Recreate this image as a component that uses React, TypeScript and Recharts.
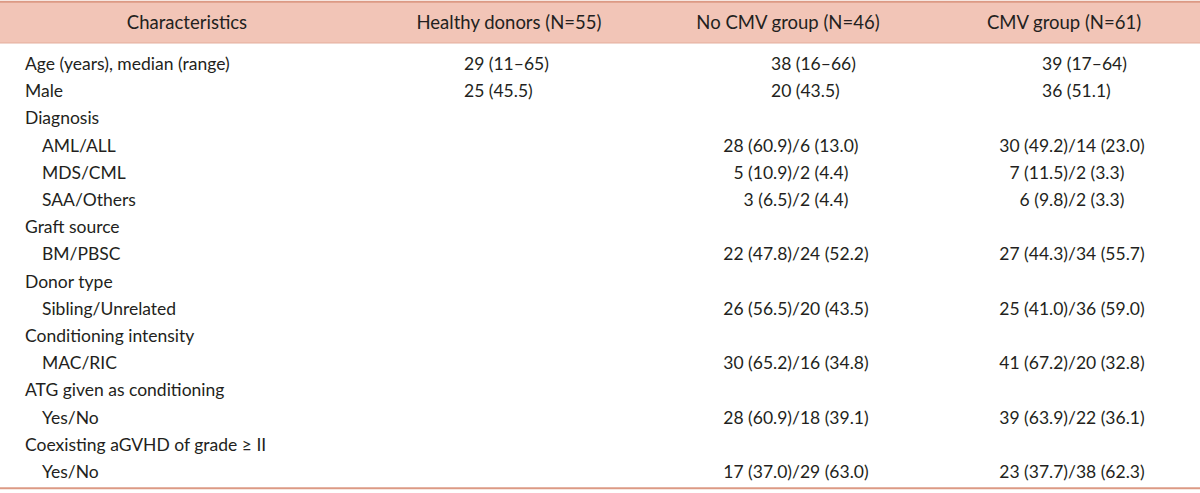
import { ReferenceArea, ReferenceLine, Scatter, ScatterChart, XAxis, YAxis } from 'recharts'

const HEADERS = ['Characteristics', 'Healthy donors (N=55)', 'No CMV group (N=46)', 'CMV group (N=61)']

const ROW_LABELS = [
  'Age (years), median (range)',
  'Male',
  'Diagnosis',
  'AML/ALL',
  'MDS/CML',
  'SAA/Others',
  'Graft source',
  'BM/PBSC',
  'Donor type',
  'Sibling/Unrelated',
  'Conditioning intensity',
  'MAC/RIC',
  'ATG given as conditioning',
  'Yes/No',
  'Coexisting aGVHD of grade \u2265 II',
  'Yes/No',
]

const ROW_INDENT = [false, false, false, true, true, true, false, true, false, true, false, true, false, true, false, true]

const HEALTHY = ['29 (11\u201365)', '25 (45.5)', '', '', '', '', '', '', '', '', '', '', '', '', '', '']

const NO_CMV = [
  '38 (16\u201366)',
  '20 (43.5)',
  '',
  '28 (60.9)/6 (13.0)',
  '5 (10.9)/2 (4.4)',
  '3 (6.5)/2 (4.4)',
  '',
  '22 (47.8)/24 (52.2)',
  '',
  '26 (56.5)/20 (43.5)',
  '',
  '30 (65.2)/16 (34.8)',
  '',
  '28 (60.9)/18 (39.1)',
  '',
  '17 (37.0)/29 (63.0)',
]

const CMV = [
  '39 (17\u201364)',
  '36 (51.1)',
  '',
  '30 (49.2)/14 (23.0)',
  '7 (11.5)/2 (3.3)',
  '6 (9.8)/2 (3.3)',
  '',
  '27 (44.3)/34 (55.7)',
  '',
  '25 (41.0)/36 (59.0)',
  '',
  '41 (67.2)/20 (32.8)',
  '',
  '39 (63.9)/22 (36.1)',
  '',
  '23 (37.7)/38 (62.3)',
]

// layout (x in axis units 0..1200, y in row units)
const W = 1200
const H = 493
const LABEL_X = 25
const INDENT_X = 42
const HEADER_X = [187, 509, 788, 1064]
const SINGLE_X = [464, 771, 1042]
const SLASH_X = [509, 792, 1068]
const HEADER_ROW = -1.53
const TOP_LINE = -2.27
const BAND_BOTTOM = -0.75
const BOTTOM_LINE = 15.62
const Y_DOMAIN: [number, number] = [-2.33, 15.79]

const FONT = 'Lato, "Open Sans", sans-serif'
const TEXT = '#231f20'
const BAND = '#f2c5b7'
const RULE = '#dc9a85'

type Cell = { x: number; y: number; text: string; kind: 'start' | 'middle' | 'split'; head?: boolean }

const cells: Cell[] = []
HEADERS.forEach((h, i) => cells.push({ x: HEADER_X[i], y: HEADER_ROW, text: h, kind: 'middle', head: true }))
ROW_LABELS.forEach((l, r) => cells.push({ x: ROW_INDENT[r] ? INDENT_X : LABEL_X, y: r, text: l, kind: 'start' }))
;[HEALTHY, NO_CMV, CMV].forEach((col, c) => {
  col.forEach((v, r) => {
    if (!v) return
    if (v.includes('/')) cells.push({ x: SLASH_X[c], y: r, text: v, kind: 'split' })
    else cells.push({ x: SINGLE_X[c], y: r, text: v, kind: 'start' })
  })
})

function CellText(props: any) {
  const { cx, cy, payload } = props
  const common = {
    fontFamily: FONT,
    fontSize: payload.head ? 18.5 : 17.5,
    fill: TEXT,
    dominantBaseline: 'central' as const,
  }
  if (payload.kind === 'split') {
    const i = payload.text.indexOf('/')
    return (
      <g>
        <text x={cx} y={cy} textAnchor="end" {...common}>
          {payload.text.slice(0, i)}
        </text>
        <text x={cx} y={cy} textAnchor="start" {...common}>
          {payload.text.slice(i)}
        </text>
      </g>
    )
  }
  return (
    <text x={cx} y={cy} textAnchor={payload.kind} {...common}>
      {payload.text}
    </text>
  )
}

export default function App() {
  return (
    <div style={{ position: 'absolute', left: 0, top: 0, width: W, height: H, background: '#fff' }}>
      <ScatterChart width={W} height={H} margin={{ top: 0, right: 0, bottom: 0, left: 0 }}>
        <XAxis type="number" dataKey="x" domain={[0, W]} hide />
        <YAxis type="number" dataKey="y" domain={Y_DOMAIN} reversed hide allowDataOverflow />
        <ReferenceArea x1={0} x2={W} y1={TOP_LINE} y2={BAND_BOTTOM} fill={BAND} fillOpacity={1} stroke="none" />
        <ReferenceLine y={TOP_LINE} stroke={RULE} strokeWidth={2} />
        <ReferenceLine y={BAND_BOTTOM} stroke="#e3ad9c" strokeWidth={1} />
        <ReferenceLine y={BOTTOM_LINE} stroke={RULE} strokeWidth={2} />
        <Scatter data={cells} shape={(p: any) => <CellText {...p} />} isAnimationActive={false} />
      </ScatterChart>
    </div>
  )
}
